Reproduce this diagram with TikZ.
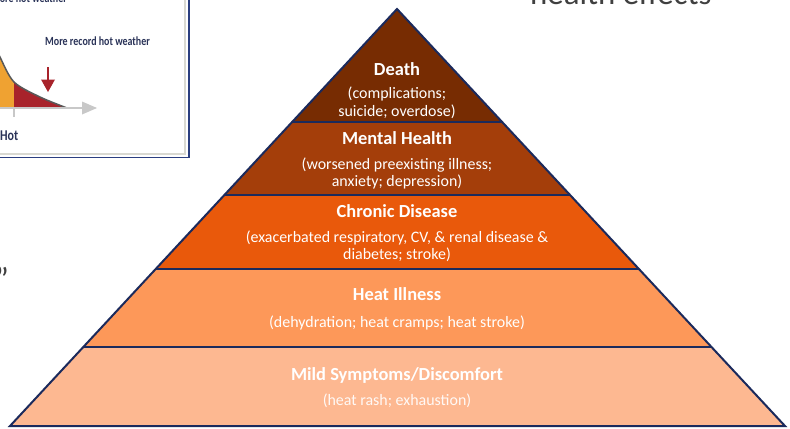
\documentclass[tikz,border=0pt]{standalone}
\usepackage{fontspec}
\setmainfont{Carlito}
\newfontfamily\narrowfont[FakeStretch=0.8]{Carlito}
\usetikzlibrary{calc}

\definecolor{outline}{HTML}{1B2A5C}
\definecolor{cDeath}{HTML}{772C02}
\definecolor{cMental}{HTML}{A43E0A}
\definecolor{cChronic}{HTML}{E9590B}
\definecolor{cHeat}{HTML}{FD9859}
\definecolor{cMild}{HTML}{FDB891}
\definecolor{slideText}{HTML}{404040}
\definecolor{chartNavy}{HTML}{2A3358}
\definecolor{chartRed}{HTML}{A8232B}
\definecolor{chartOrange}{HTML}{EFA232}
\definecolor{axisGray}{HTML}{C8C8C8}
\definecolor{frameGray}{HTML}{D9D9D2}
\definecolor{frameNavy}{HTML}{2B3F80}

\tikzset{
  layeredge/.style={draw=outline, line width=2bp, line join=miter},
  ttl/.style={anchor=base, text=white, inner sep=0pt,
    font=\fontsize{18.5}{20}\selectfont\bfseries},
  % multi-line labels sit on the baseline of their last line
  subttl/.style={anchor=base, text=white, align=center, inner sep=0pt,
    font=\fontsize{16}{17.5}\selectfont},
  charttext/.style={inner sep=0pt, text=chartNavy,
    font=\narrowfont\bfseries\fontsize{12.5}{14}\selectfont},
  slidetext/.style={inner sep=0pt, text=slideText,
    font=\fontsize{33}{36}\selectfont},
}

\begin{document}
\begin{tikzpicture}[x=1bp,y=-1bp]
\clip (0,0) rectangle (790,428);
\fill[white] (0,0) rectangle (790,428);

% ---------- inset chart (top left) ----------
\begin{scope}
  \clip (0,0) rectangle (190,159);
  \fill[white] (-5,-5) rectangle (189,157.5);
  % distribution curve, orange and red tails
  \begin{scope}
    \clip (-5,0) rectangle (14,108);
    \fill[chartOrange] plot[smooth] coordinates {(-8,38) (0,57) (14,82) (40,97) (67,108)} -- (0,108) -- (-8,108) -- cycle;
  \end{scope}
  \begin{scope}
    \clip (14,0) rectangle (80,108);
    \fill[chartRed] plot[smooth] coordinates {(-8,38) (0,57) (14,82) (40,97) (67,108)} -- (0,108) -- (-8,108) -- cycle;
  \end{scope}
  \draw[gray!70!black, line width=1.5bp] plot[smooth] coordinates {(-8,38) (0,57) (14,82) (40,97) (67,108)};
  % horizontal axis with arrow and tick
  \coordinate (axL) at (-5,108);
  \coordinate (axR) at (84,108);
  \draw[axisGray, line width=2bp] (axL) -- (axR);
  \fill[axisGray] (82,101.5) -- (97,108) -- (82,114.5) -- cycle;
  \coordinate (tickT) at (14,108);
  \coordinate (tickB) at (14,117);
  \draw[axisGray, line width=1.5bp] (tickT) -- (tickB);
  % red marker arrow
  \coordinate (arT) at (48,67);
  \coordinate (arB) at (48,81);
  \draw[chartRed, line width=2bp] (arT) -- (arB);
  \fill[chartRed] (41,79.5) -- (55,79.5) -- (48,92) -- cycle;
  % labels
  \node[charttext, anchor=base east] (moreHot) at (67,2.5) {More hot weather};
  \node[charttext, anchor=base west] (recordHot) at (45,45) {More record hot weather};
  \node[charttext, anchor=base west, font=\narrowfont\bfseries\fontsize{15}{17}\selectfont] (hotLbl) at (0,140) {Hot};
  % frame
  \draw[frameGray, line width=2.2bp] (-5,-5) rectangle (185,154);
  \draw[frameNavy, line width=1.2bp] (189,-5) -- (189,157.5) -- (-5,157.5);
\end{scope}

% ---------- slide text fragments ----------
\node[slidetext, anchor=base west] (healthFx) at (530,4.5) {health effects};
\node[slidetext, anchor=base east] (quoteMark) at (9,290) {”};

% ---------- pyramid ----------
\coordinate (apex) at (397,9);
\coordinate (bl) at (10,426);
\coordinate (br) at (785,426);
\foreach \n/\t in {1/0.271,2/0.446,3/0.6235,4/0.8106}{
  \coordinate (l\n) at ($(apex)!\t!(bl)$);
  \coordinate (r\n) at ($(apex)!\t!(br)$);
}
\fill[cDeath]   (apex) -- (l1) -- (r1) -- cycle;
\fill[cMental]  (l1) -- (l2) -- (r2) -- (r1) -- cycle;
\fill[cChronic] (l2) -- (l3) -- (r3) -- (r2) -- cycle;
\fill[cHeat]    (l3) -- (l4) -- (r4) -- (r3) -- cycle;
\fill[cMild]    (l4) -- (bl) -- (br) -- (r4) -- cycle;
\foreach \n in {1,2,3,4}{ \draw[layeredge] (l\n) -- (r\n); }
\draw[layeredge] (apex) -- (bl) -- (br) -- cycle;

% ---------- layer labels ----------
\node[ttl] (deathT) at (397,75) {Death};
\node[subttl] (deathS) at (397,116) {(complications;\\suicide; overdose)};
\node[ttl] (mentalT) at (397,144) {Mental Health};
\node[subttl] (mentalS) at (397,186.5) {(worsened preexisting illness;\\anxiety; depression)};
\node[ttl] (chronicT) at (397,217) {Chronic Disease};
\node[subttl] (chronicS) at (397,259.5) {(exacerbated respiratory, CV, \& renal disease \&\\diabetes; stroke)};
\node[ttl] (heatT) at (397,300) {Heat Illness};
\node[subttl] (heatS) at (397,327) {(dehydration; heat cramps; heat stroke)};
\node[ttl] (mildT) at (397,380) {Mild Symptoms/Discomfort};
\node[subttl, text=white!92!cMild] (mildS) at (397,405) {(heat rash; exhaustion)};
\end{tikzpicture}
\end{document}
